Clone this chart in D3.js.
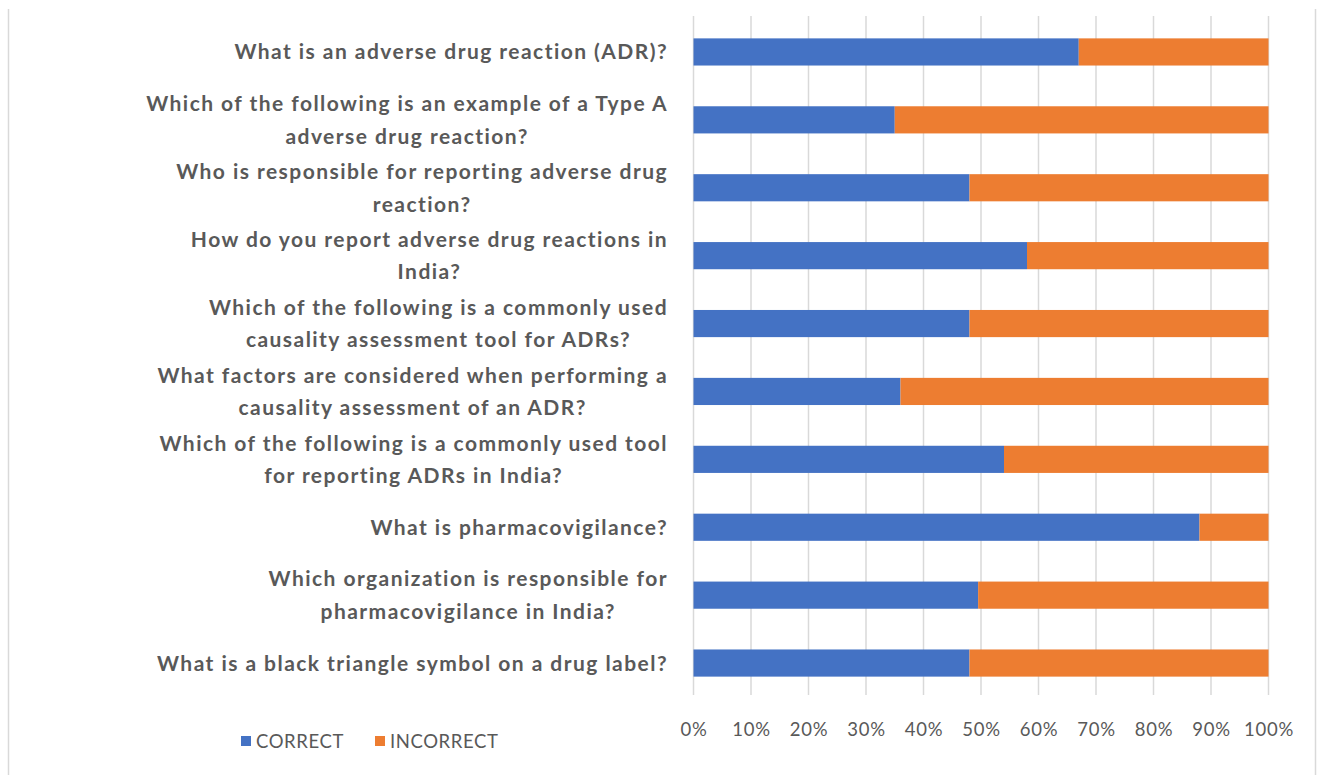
<!DOCTYPE html>
<html>
<head>
<meta charset="utf-8">
<script src="https://cdn.jsdelivr.net/npm/d3@7"></script>
<style>
  html, body { margin: 0; padding: 0; background: #ffffff; }
  svg { display: block; }
</style>
</head>
<body>
<svg id="chart" width="1321" height="775"></svg>
<script>
// ---- data ----
const categories = [
  "What is an adverse drug reaction (ADR)?",
  "Which of the following is an example of a Type A\nadverse drug reaction?",
  "Who is responsible for reporting adverse drug\nreaction?",
  "How do you report adverse drug reactions in\nIndia?",
  "Which of the following is a commonly used\ncausality assessment tool for ADRs?",
  "What factors are considered when performing a\ncausality assessment of an ADR?",
  "Which of the following is a commonly used tool\nfor reporting ADRs in India?",
  "What is pharmacovigilance?",
  "Which organization is responsible for\npharmacovigilance in India?",
  "What is a black triangle symbol on a drug label?"
];
const correct   = [67, 35, 48, 58, 48, 36, 54, 88, 49.5, 48];
const incorrect = [33, 65, 52, 42, 52, 64, 46, 12, 50.5, 52];
const seriesNames = ["CORRECT", "INCORRECT"];
const tickValues = [0, 10, 20, 30, 40, 50, 60, 70, 80, 90, 100];

// ---- layout ----
const svg = d3.select("#chart");
const colors = { CORRECT: "#4472C4", INCORRECT: "#ED7D31" };
const textColor = "#595959";
const plot = { left: 693.5, right: 1268.5, top: 16, bottom: 695 };

const x = d3.scaleLinear().domain([0, 100]).range([plot.left, plot.right]);
const y = d3.scaleBand().domain(d3.range(categories.length))
  .range([plot.top + 2, plot.bottom + 2]).paddingInner(0.6).paddingOuter(0.3);

// outer chart border (left & right edges visible)
svg.append("line").attr("x1", 8.5).attr("x2", 8.5).attr("y1", 9).attr("y2", 775)
  .attr("stroke", "#D9D9D9").attr("stroke-width", 1.5);
svg.append("line").attr("x1", 1315.5).attr("x2", 1315.5).attr("y1", 9).attr("y2", 775)
  .attr("stroke", "#D9D9D9").attr("stroke-width", 1.5);

// gridlines
svg.append("g").selectAll("line").data(tickValues).join("line")
  .attr("x1", d => x(d)).attr("x2", d => x(d))
  .attr("y1", plot.top).attr("y2", plot.bottom)
  .attr("stroke", "#D9D9D9").attr("stroke-width", 1.5);

// stacked bars
const rows = categories.map((c, i) => ({ i, CORRECT: correct[i], INCORRECT: incorrect[i] }));
const stack = d3.stack().keys(seriesNames)(rows);
svg.append("g").selectAll("g").data(stack).join("g")
  .attr("fill", d => colors[d.key])
  .selectAll("rect").data(d => d).join("rect")
  .attr("x", d => x(d[0]))
  .attr("width", d => x(d[1]) - x(d[0]))
  .attr("y", d => y(d.data.i))
  .attr("height", y.bandwidth());

// x axis tick labels
const xAxis = d3.axisBottom(x).tickValues(tickValues).tickFormat(d => d + "%").tickSize(0);
const gx = svg.append("g").attr("transform", `translate(0, 723)`).call(xAxis);
gx.select(".domain").remove();
gx.selectAll("text").attr("fill", textColor)
  .style("font-family", "Lato, 'Open Sans', sans-serif").style("font-size", "18.5px")
  .style("letter-spacing", "0.8px")
  .attr("dy", "0.71em").attr("y", 0);

// category labels (centered block, right edge at labelRight)
const labelRight = 668;
const lg = svg.append("g").style("font-family", "Lato, 'Open Sans', sans-serif")
  .style("font-weight", "bold").style("font-size", "21px")
  .style("letter-spacing", "1.45px").attr("fill", textColor);
categories.forEach((c, i) => {
  const lines = c.split("\n");
  const cy = y(i) + y.bandwidth() / 2 - 1.5;
  const t = lg.append("text").attr("text-anchor", "middle").attr("dominant-baseline", "central");
  const spans = lines.map((ln, k) => t.append("tspan").text(ln)
    .attr("y", cy + (k - (lines.length - 1) / 2) * 32.5));
  const w = d3.max(spans, s => s.node().getComputedTextLength());
  spans.forEach(s => s.attr("x", labelRight - w / 2));
});

// legend
const legend = svg.append("g").style("font-family", "Lato, 'Open Sans', sans-serif")
  .style("font-size", "18.5px").style("letter-spacing", "0.6px").attr("fill", textColor);
const legendX = [241, 375];
seriesNames.forEach((n, k) => {
  legend.append("rect").attr("x", legendX[k]).attr("y", 736).attr("width", 10).attr("height", 10)
    .attr("fill", colors[n]);
  legend.append("text").attr("x", legendX[k] + 15).attr("y", 741)
    .attr("dominant-baseline", "central").text(n);
});
</script>
</body>
</html>
